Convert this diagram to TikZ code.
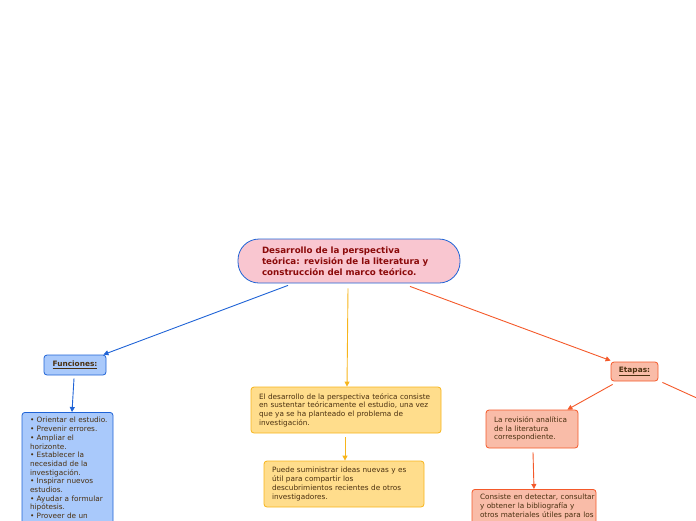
\documentclass[tikz,border=0pt]{standalone}
\usepackage{fontspec}
\setmainfont{DejaVu Sans}
\usetikzlibrary{arrows.meta,calc}
\definecolor{bluebd}{HTML}{1F63D6}
\definecolor{bluefill}{HTML}{A9C9FB}
\definecolor{pinkfill}{HTML}{F9C6D0}
\definecolor{darkred}{HTML}{8B0A0A}
\definecolor{yelbd}{HTML}{F7B51C}
\definecolor{yelfill}{HTML}{FFDD8C}
\definecolor{orbd}{HTML}{F4592A}
\definecolor{salfill}{HTML}{F9BCA8}
\definecolor{txt}{HTML}{4A3010}
\newcommand\ml[1]{\mbox{#1}}
\tikzset{
  box/.style={draw, rounded corners=3pt, line width=0.8pt, text=txt, align=left,
    font=\fontsize{7.3}{8.7}\selectfont, inner xsep=8pt, inner ysep=3pt},
  bluebox/.style={box, draw=bluebd, fill=bluefill},
  yelbox/.style={box, draw=yelbd, fill=yelfill},
  salbox/.style={box, draw=orbd, fill=salfill},
  headbox/.style={draw, rounded corners=3pt, line width=0.8pt, text=txt, align=center,
    font=\fontsize{7.4}{8}\selectfont\bfseries, inner sep=0pt},
  conn/.style={-{Triangle[length=5pt,width=5pt]}, line width=0.9pt},
}
\begin{document}
\begin{tikzpicture}[x=1pt,y=-1pt]
\useasboundingbox (0,0) rectangle (696,520);
\clip (0,0) rectangle (696,520);
% central
\node[draw=bluebd, fill=pinkfill, line width=0.8pt, rounded corners=21pt,
  minimum width=222pt, minimum height=44pt, text width=174pt, inner xsep=24pt,
  align=left, text=darkred, font=\fontsize{8.7}{11}\selectfont\bfseries]
  (c) at (349,261) {\ml{Desarrollo de la perspectiva}\\\ml{teórica: revisión de la literatura y}\\\ml{construcción del marco teórico.}};
% left branch
\node[headbox, draw=bluebd, fill=bluefill, minimum width=62pt, minimum height=20pt]
  (f) at (75,365) {\underline{Funciones:}};
\node[bluebox, anchor=north, text width=75pt, minimum width=91pt, inner ysep=5pt, text depth=110pt]
  (l) at (67.5,412) {\ml{• Orientar el estudio.}\\\ml{• Prevenir errores.}\\\ml{• Ampliar el}\\\ml{horizonte.}\\\ml{• Establecer la}\\\ml{necesidad de la}\\\ml{investigación.}\\\ml{• Inspirar nuevos}\\\ml{estudios.}\\\ml{• Ayudar a formular}\\\ml{hipótesis.}\\\ml{• Proveer de un}};
% middle branch
\node[yelbox, text width=174pt, minimum width=190pt, minimum height=46pt]
  (y1) at (346,410) {\ml{El desarrollo de la perspectiva teórica consiste}\\\ml{en sustentar teóricamente el estudio, una vez}\\\ml{que ya se ha planteado el problema de}\\\ml{investigación.}};
\node[yelbox, text width=144pt, minimum width=160pt, minimum height=46pt]
  (y2) at (344,484) {\ml{Puede suministrar ideas nuevas y es}\\\ml{útil para compartir los}\\\ml{descubrimientos recientes de otros}\\\ml{investigadores.}};
% right branch
\node[headbox, draw=orbd, fill=salfill, minimum width=47pt, minimum height=19pt]
  (e) at (634.5,371.5) {\underline{Etapas:}};
\node[salbox, text width=76pt, minimum width=92pt, minimum height=38pt]
  (s1) at (532,429) {\ml{La revisión analítica}\\\ml{de la literatura}\\\ml{correspondiente.}};
\node[salbox, anchor=north, text width=108pt, minimum width=124pt, inner ysep=5pt, text depth=40pt]
  (s2) at (534,489) {\ml{Consiste en detectar, consultar}\\\ml{y obtener la bibliografía y}\\\ml{otros materiales útiles para los}};
\coordinate (out) at (710,404);
% connectors
\draw[conn, bluebd] ($(c.south)+(-61,2)$) -- ([xshift=-3pt]f.north east);
\draw[conn, bluebd] ($(f.south)+(-1,3)$) -- ([xshift=4.5pt]l.north);
\draw[conn, yelbd] ($(c.south)+(-1,5)$) -- ([xshift=1pt]y1.north);
\draw[conn, yelbd] ($(y1.south)+(-1,4)$) -- ([xshift=1pt]y2.north);
\draw[conn, orbd] ($(c.south)+(61,3)$) -- ([yshift=1pt]e.north west);
\draw[conn, orbd] ($(e.south west)+(2,3)$) -- ([xshift=-11pt]s1.north east);
\draw[conn, orbd] ($(s1.south)+(1,4)$) -- (s2.north);
\draw[line width=0.9pt, orbd] ($(e.south east)+(4,1)$) -- (out);
\end{tikzpicture}
\end{document}
